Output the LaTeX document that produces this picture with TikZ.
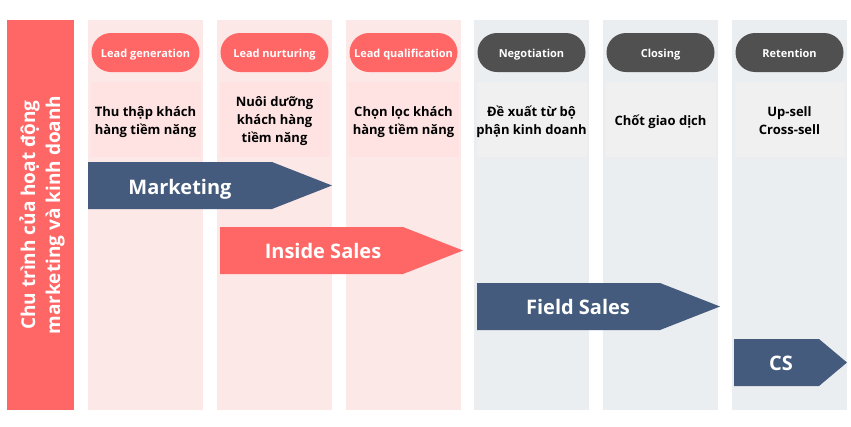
\documentclass[tikz,border=0pt]{standalone}
\usepackage{fontspec}
\setmainfont{Open Sans}
\definecolor{redc}{HTML}{FF6666}
\definecolor{pinkcol}{HTML}{FDE8E8}
\definecolor{pinkbox}{HTML}{FFE2E2}
\definecolor{graycol}{HTML}{EBEEF0}
\definecolor{graybox}{HTML}{F0F0F0}
\definecolor{darkpill}{HTML}{505050}
\definecolor{navy}{HTML}{445B7E}
\begin{document}
\begin{tikzpicture}[x=1pt,y=-1pt,
  pill/.style={fill=#1, draw=none, rounded corners=19.5pt, minimum width=108pt, minimum height=39pt, inner sep=0pt},
  pilltext/.style={text=white, font=\fontsize{11}{13}\selectfont\bfseries, inner sep=0pt, anchor=base},
  descbox/.style={fill=#1, draw=none, minimum width=110pt, minimum height=75pt, inner sep=0pt},
  desctext/.style={align=center, font=\fontsize{13}{18}\selectfont\bfseries, text=black, inner sep=0pt, anchor=base},
  arrowlabel/.style={text=white, font=\fontsize{20}{24}\selectfont\bfseries, inner sep=0pt, anchor=base}
]
\useasboundingbox (0,0) rectangle (851,426);
\fill[white] (0,0) rectangle (851,426);
% left bar
\fill[redc] (7,20) rectangle (74,410);
\node[rotate=90, text=white, align=center, font=\fontsize{19}{25}\selectfont\bfseries] (side) at (42,215) {Chu trình của hoạt động\\marketing và kinh doanh};
% columns
\fill[pinkcol] (88,20) rectangle (203,410);
\fill[pinkcol] (217,20) rectangle (332,410);
\fill[pinkcol] (346,20) rectangle (461,410);
\fill[graycol] (474,20) rectangle (589,410);
\fill[graycol] (603,20) rectangle (718,410);
\fill[graycol] (732,20) rectangle (847,410);
% pills
\node[pill=redc] (p1) at (145.5,52.5) {};
\node[pill=redc] (p2) at (274.5,52.5) {};
\node[pill=redc] (p3) at (403.5,52.5) {};
\node[pill=darkpill] (p4) at (531.5,52.5) {};
\node[pill=darkpill] (p5) at (660.5,52.5) {};
\node[pill=darkpill] (p6) at (789.5,52.5) {};
\node[pilltext] (t1) at (145.5,57) {Lead generation};
\node[pilltext] (t2) at (274.5,57) {Lead nurturing};
\node[pilltext] (t3) at (403.5,57) {Lead qualification};
\node[pilltext] (t4) at (531.5,57) {Negotiation};
\node[pilltext] (t5) at (660.5,57) {Closing};
\node[pilltext] (t6) at (789.5,57) {Retention};
% descriptions
\node[descbox=pinkbox] (d1) at (145.5,119.5) {};
\node[descbox=pinkbox] (d2) at (274.5,119.5) {};
\node[descbox=pinkbox] (d3) at (403.5,119.5) {};
\node[descbox=graybox] (d4) at (531.5,119.5) {};
\node[descbox=graybox] (d5) at (660.5,119.5) {};
\node[descbox=graybox] (d6) at (789.5,119.5) {};
\node[desctext] (e1) at (145.5,134) {Thu thập khách\\hàng tiềm năng};
\node[desctext] (e2) at (274.5,142) {Nuôi dưỡng\\khách hàng\\tiềm năng};
\node[desctext] (e3) at (403.5,134) {Chọn lọc khách\\hàng tiềm năng};
\node[desctext] (e4) at (531.5,134) {Đề xuất từ bộ\\phận kinh doanh};
\node[desctext] (e5) at (660.5,125) {Chốt giao dịch};
\node[desctext] (e6) at (789.5,134) {Up-sell\\Cross-sell};
% arrows
\fill[navy] (88,162) -- (272,162) -- (332,185.5) -- (272,209) -- (88,209) -- cycle;
\node[arrowlabel] (a1) at (180,194) {Marketing};
\fill[redc] (220,227) -- (403,227) -- (463,250.5) -- (403,274) -- (220,274) -- cycle;
\node[arrowlabel] (a2) at (323,258.5) {Inside Sales};
\fill[navy] (477,283) -- (660,283) -- (720,306.5) -- (660,330) -- (477,330) -- cycle;
\node[arrowlabel] (a3) at (578,314.5) {Field Sales};
\fill[navy] (734,339) -- (819,339) -- (847,362.5) -- (819,386) -- (734,386) -- cycle;
\node[arrowlabel] (a4) at (781,370.5) {CS};
\end{tikzpicture}
\end{document}
